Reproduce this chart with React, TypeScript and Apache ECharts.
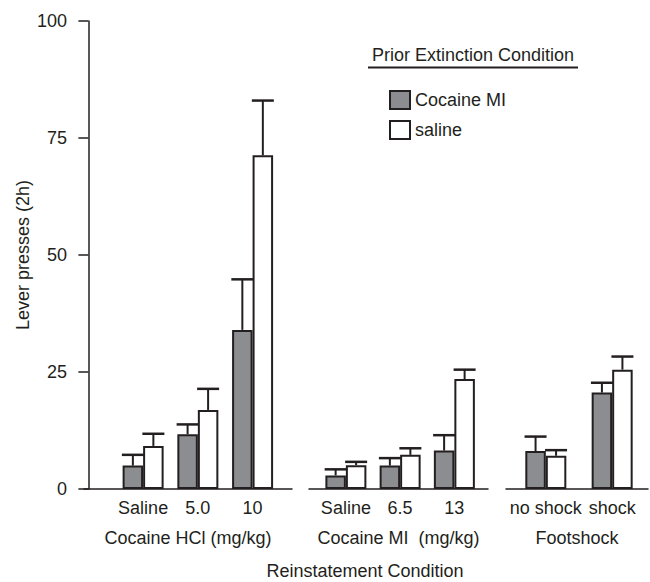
import React, { useEffect, useRef } from "react";
import * as echarts from "echarts";

// ---- data ----
const hclLabels = ["Saline", "5.0", "10"];
const hclMI = [5.0, 11.7, 34.0];
const hclMIErr = [2.3, 2.1, 10.8];
const hclSal = [9.2, 16.9, 71.3];
const hclSalErr = [2.6, 4.5, 11.7];

const miLabels = ["Saline", "6.5", "13"];
const miMI = [2.9, 5.0, 8.2];
const miMIErr = [1.3, 1.6, 3.3];
const miSal = [5.1, 7.3, 23.5];
const miSalErr = [0.7, 1.4, 2.0];

const shockLabels = ["no shock", "shock"];
const shockMI = [8.1, 20.6];
const shockMIErr = [3.1, 2.1];
const shockSal = [7.1, 25.5];
const shockSalErr = [1.2, 2.8];

const groupTitles = ["Cocaine HCl (mg/kg)", "Cocaine MI  (mg/kg)", "Footshock"];
const yTicks = [0, 25, 50, 75, 100];
const seriesNames = ["Cocaine MI", "saline"];

// ---- style / layout ----
const FONT = '"Liberation Sans", Arial, Helvetica, sans-serif';
const INK = "#231f20";
const GRAY = "#8c8d90";
const FS = 18;
const BAR_W = 20.5;
const CAP_HALF = 11;
const GRID_TOP = 21;
const GRID_H = 468;
const layouts = [
  { left: 84, width: 208, min: -0.08, max: 3.72 },
  { left: 309, width: 179, min: 0.32, max: 3.62 },
  { left: 506, width: 142, min: 0.4, max: 2.54 },
];

const groups = [
  { labels: hclLabels, mi: hclMI, miErr: hclMIErr, sal: hclSal, salErr: hclSalErr },
  { labels: miLabels, mi: miMI, miErr: miMIErr, sal: miSal, salErr: miSalErr },
  { labels: shockLabels, mi: shockMI, miErr: shockMIErr, sal: shockSal, salErr: shockSalErr },
];

function buildOption() {
  const grid: any[] = [];
  const xAxis: any[] = [];
  const yAxis: any[] = [];
  const series: any[] = [];

  groups.forEach((g, i) => {
    const L = layouts[i];
    grid.push({ left: L.left, width: L.width, top: GRID_TOP, height: GRID_H });
    xAxis.push({
      type: "value",
      gridIndex: i,
      min: L.min,
      max: L.max,
      name: groupTitles[i],
      nameLocation: "middle",
      nameGap: 40,
      nameTextStyle: { fontSize: FS, color: INK, fontFamily: FONT },
      axisLine: { show: true, onZero: false, lineStyle: { color: INK, width: 1.5 } },
      axisTick: { show: false },
      splitLine: { show: false },
      axisLabel: {
        customValues: g.labels.map((_, k) => k + 1),
        formatter: (v: number) => g.labels[Math.round(v) - 1] ?? "",
        fontSize: FS,
        color: INK,
        fontFamily: FONT,
        margin: 10,
      },
    });
    yAxis.push({
      type: "value",
      gridIndex: i,
      min: 0,
      max: 100,
      interval: 25,
      show: i === 0,
      name: i === 0 ? "Lever presses (2h)" : "",
      nameLocation: "middle",
      nameGap: 52,
      nameTextStyle: { fontSize: FS, color: INK, fontFamily: FONT },
      axisLine: { show: true, lineStyle: { color: INK, width: 1.5 } },
      axisTick: { show: true, length: 10, lineStyle: { color: INK, width: 1.5 } },
      splitLine: { show: false },
      axisLabel: {
        customValues: yTicks,
        fontSize: FS,
        color: INK,
        fontFamily: FONT,
        margin: 17,
      },
    });

    series.push({
      type: "bar",
      name: seriesNames[0],
      xAxisIndex: i,
      yAxisIndex: i,
      barWidth: BAR_W,
      barGap: "0%",
      data: g.mi.map((v, k) => [k + 1, v]),
      itemStyle: { color: GRAY, borderColor: INK, borderWidth: 2 },
    });
    series.push({
      type: "bar",
      name: seriesNames[1],
      xAxisIndex: i,
      yAxisIndex: i,
      barWidth: BAR_W,
      barGap: "0%",
      data: g.sal.map((v, k) => [k + 1, v]),
      itemStyle: { color: "#ffffff", borderColor: INK, borderWidth: 2 },
    });
    series.push({
      type: "custom",
      xAxisIndex: i,
      yAxisIndex: i,
      silent: true,
      z: 5,
      data: [
        ...g.mi.map((v, k) => [k + 1, v, g.miErr[k], -1]),
        ...g.sal.map((v, k) => [k + 1, v, g.salErr[k], 1]),
      ],
      encode: { x: 0, y: 1 },
      renderItem: (params: any, api: any) => {
        const x = api.value(0);
        const v = api.value(1);
        const e = api.value(2);
        const side = api.value(3);
        const p0 = api.coord([x, v]);
        const p1 = api.coord([x, v + e]);
        const cx = p0[0] + (side * BAR_W) / 2;
        return {
          type: "group",
          children: [
            {
              type: "line",
              shape: { x1: cx, y1: p0[1], x2: cx, y2: p1[1] },
              style: { stroke: INK, lineWidth: 2 },
            },
            {
              type: "line",
              shape: { x1: cx - CAP_HALF, y1: p1[1], x2: cx + CAP_HALF, y2: p1[1] },
              style: { stroke: INK, lineWidth: 2.5 },
            },
          ],
        };
      },
    });
  });

  return {
    animation: false,
    backgroundColor: "#ffffff",
    textStyle: { fontFamily: FONT, color: INK },
    grid,
    xAxis,
    yAxis,
    series,
    legend: {
      orient: "vertical",
      left: 384,
      top: 85,
      itemWidth: 20,
      itemHeight: 18,
      itemGap: 10,
      icon: "rect",
      selectedMode: false,
      data: seriesNames,
      textStyle: { fontSize: FS, color: INK, fontFamily: FONT },
    },
    graphic: [
      {
        type: "text",
        x: 473,
        y: 55,
        style: {
          text: "Prior Extinction Condition",
          fontSize: FS,
          fontFamily: FONT,
          fill: INK,
          align: "center",
          verticalAlign: "middle",
        },
      },
      {
        type: "line",
        shape: { x1: 368, y1: 67.5, x2: 578, y2: 67.5 },
        style: { stroke: INK, lineWidth: 2 },
      },
      {
        type: "text",
        x: 365,
        y: 571,
        style: {
          text: "Reinstatement Condition",
          fontSize: FS,
          fontFamily: FONT,
          fill: INK,
          align: "center",
          verticalAlign: "middle",
        },
      },
    ],
  };
}

export default function App() {
  const ref = useRef<HTMLDivElement>(null);
  useEffect(() => {
    if (!ref.current) return;
    const chart = echarts.init(ref.current, undefined, { renderer: "svg" });
    chart.setOption(buildOption() as any);
    return () => chart.dispose();
  }, []);
  return (
    <div
      ref={ref}
      style={{ position: "fixed", left: 0, top: 0, width: 650, height: 582, background: "#fff" }}
    />
  );
}
